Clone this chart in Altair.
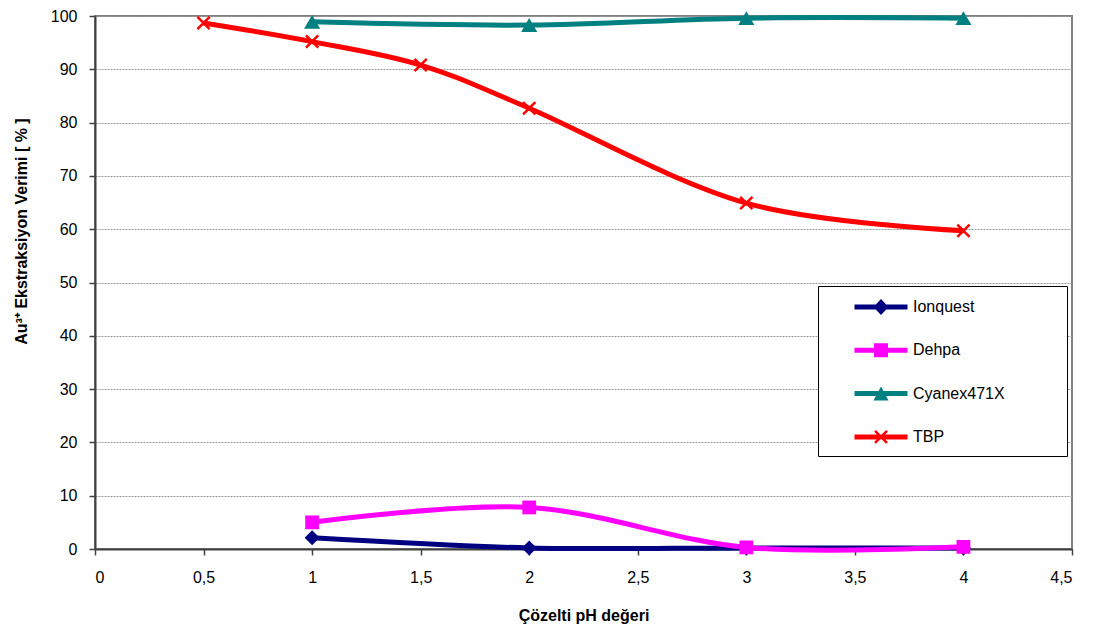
import altair as alt
import pandas as pd

# Extraction yield (%) of Au3+ against solution pH for four extractants
series_names = ["Ionquest", "Dehpa", "Cyanex471X", "TBP"]
series_colors = ["#000080", "#FF00FF", "#008080", "#FF0000"]

ph_main = [1, 2, 3, 4]
ionquest = [2.1, 0.2, 0.2, 0.2]
dehpa = [5.0, 7.8, 0.3, 0.4]
cyanex = [98.9, 98.3, 99.6, 99.6]

ph_tbp = [0.5, 1, 1.5, 2, 3, 4]
tbp = [98.7, 95.2, 90.8, 82.7, 64.9, 59.7]

x_ticks = [0, 0.5, 1, 1.5, 2, 2.5, 3, 3.5, 4, 4.5]
y_ticks = [0, 10, 20, 30, 40, 50, 60, 70, 80, 90, 100]

FONT = "Liberation Sans"

rows = []
for name, xs, ys in [
    ("Ionquest", ph_main, ionquest),
    ("Dehpa", ph_main, dehpa),
    ("Cyanex471X", ph_main, cyanex),
    ("TBP", ph_tbp, tbp),
]:
    for x, y in zip(xs, ys):
        rows.append({"seri": name, "ph": x, "verim": y})
df = pd.DataFrame(rows)

x_enc = alt.X(
    "ph:Q",
    scale=alt.Scale(domain=[0, 4.5], nice=False),
    axis=alt.Axis(
        values=x_ticks,
        labelExpr="replace(toString(datum.value), '.', ',')",
        title="Çözelti pH değeri",
        grid=False,
        tickSize=6,
        labelPadding=14,
        titleY=66,
        titleBaseline="middle",
    ),
)
y_enc = alt.Y(
    "verim:Q",
    scale=alt.Scale(domain=[0, 100], nice=False),
    axis=alt.Axis(
        values=y_ticks,
        title="Au³⁺ Ekstraksiyon Verimi [ % ]",
        grid=True,
        gridColor="#9a9a9a",
        gridDash=[2, 1],
        gridWidth=1,
        tickSize=6,
        labelPadding=12,
        titleAngle=270,
        titleX=-74,
        titleY=215,
        titleAlign="center",
        titleBaseline="middle",
    ),
)

base = alt.Chart(df)

# Marker glyph per series for the data points
point_shape = {
    "Ionquest": dict(shape="diamond", size=225, filled=True),
    "Dehpa": dict(shape="square", size=190, filled=True),
    "Cyanex471X": dict(shape="triangle-up", size=260, filled=True),
    "TBP": dict(shape="M-1,-1L1,1M-1,1L1,-1", size=150, filled=False, strokeWidth=2.5),
}

layers = []
for name, color in zip(series_names, series_colors):
    sub = base.transform_filter(alt.datum.seri == name)
    layers.append(
        sub.mark_line(color=color, strokeWidth=5, interpolate="cardinal", tension=0)
        .encode(x=x_enc, y=y_enc)
    )
    layers.append(
        sub.mark_point(color=color, opacity=1, **point_shape[name])
        .encode(x=x_enc, y=y_enc)
    )

# Legend glyphs: a thick line segment with the series marker in the middle
line_part = "M-2.65,-0.25L-2.65,0.25L2.65,0.25L2.65,-0.25Z"
d = 0.088
a = 0.6
x_part = (
    f"M{-a-d},{-a+d}L{a-d},{a+d}L{a+d},{a-d}L{-a+d},{-a-d}Z"
    f"M{-a+d},{a+d}L{a+d},{-a+d}L{a-d},{-a-d}L{-a-d},{a-d}Z"
)
legend_paths = [
    line_part + "M0,-0.8L-0.75,0L0,0.8L0.75,0Z",
    line_part + "M-0.7,-0.7L-0.7,0.7L0.7,0.7L0.7,-0.7Z",
    line_part + "M0,-0.7L-0.75,0.7L0.75,0.7Z",
    line_part + x_part,
]

legend = alt.Legend(
    title=" ",
    titleOrient="right",
    titlePadding=51,
    titleFontSize=4,
    orient="none",
    legendX=723,
    legendY=270,
    padding=11,
    rowPadding=25.3,
    symbolSize=400,
    symbolOffset=42,
    labelOffset=22,
    strokeColor="#000000",
    fillColor="#ffffff",
    labelFont=FONT,
    labelFontSize=16,
    labelColor="#000000",
    symbolStrokeWidth=0,
    symbolOpacity=1,
)

# Zero-size points: they only feed the legend entries
legend_layer = base.mark_point(filled=True, size=0).encode(
    x=x_enc,
    y=y_enc,
    color=alt.Color(
        "seri:N",
        scale=alt.Scale(domain=series_names, range=series_colors),
        legend=legend,
    ),
    shape=alt.Shape(
        "seri:N",
        scale=alt.Scale(domain=series_names, range=legend_paths),
        legend=legend,
    ),
)

chart = (
    alt.layer(*layers, legend_layer)
    .properties(
        width=977,
        height=533,
        autosize=alt.AutoSizeParams(type="none"),
        padding={"left": 95, "top": 16, "right": 24, "bottom": 81},
        background="#ffffff",
    )
    .configure_view(stroke="#808080", strokeWidth=2)
    .configure_axis(
        labelFont=FONT,
        labelFontSize=16,
        labelColor="#000000",
        titleFont=FONT,
        titleFontSize=16,
        titleFontWeight="bold",
        titleColor="#000000",
        domainColor="#404040",
        domainWidth=2,
        tickColor="#404040",
        tickWidth=1.5,
    )
)

chart.save("out.html", embed_options={"renderer": "svg", "actions": False})
